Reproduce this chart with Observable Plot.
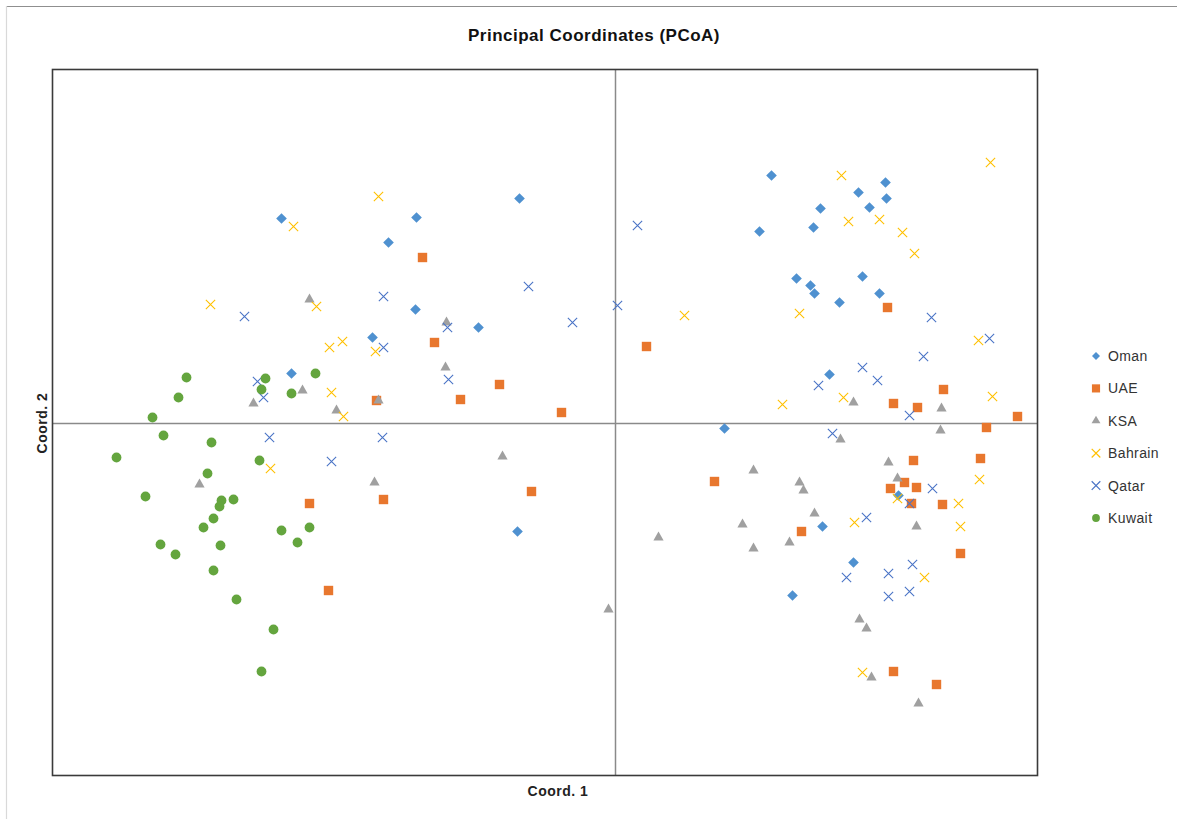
<!DOCTYPE html>
<html>
<head>
<meta charset="utf-8">
<script src="https://cdn.jsdelivr.net/npm/d3@7"></script>
<script src="https://cdn.jsdelivr.net/npm/@observablehq/plot@0.6"></script>
<style>
  html, body { margin: 0; padding: 0; background: #fff; }
  #chart { position: relative; width: 1177px; height: 819px; overflow: hidden; }
  #chart svg { position: absolute; left: 0; top: 0; }
</style>
</head>
<body>
<div id="chart"></div>
<script>
// PCoA coordinates [Coord. 1, Coord. 2]
const oman = [
  [-0.334,0.205],[-0.199,0.206],[-0.096,0.225],[-0.227,0.181],[-0.200,0.114],[-0.243,0.086],
  [-0.137,0.096],[-0.324,0.050],[-0.098,-0.108],[0.156,0.248],[0.144,0.192],[0.205,0.215],
  [0.198,0.196],[0.243,0.231],[0.254,0.216],[0.270,0.241],[0.271,0.225],[0.181,0.145],
  [0.195,0.138],[0.199,0.130],[0.224,0.121],[0.247,0.147],[0.264,0.130],[0.214,0.049],
  [0.109,-0.005],[0.207,-0.103],[0.177,-0.172],[0.238,-0.139],[0.283,-0.072]
];
const uae = [
  [-0.193,0.166],[-0.181,0.081],[-0.116,0.039],[-0.155,0.024],[-0.054,0.011],[-0.239,0.023],
  [-0.306,-0.080],[-0.232,-0.076],[-0.287,-0.167],[-0.084,-0.068],[0.031,0.077],[0.272,0.116],
  [0.328,0.034],[0.278,0.020],[0.302,0.016],[0.402,0.007],[0.371,-0.004],[0.298,-0.037],
  [0.365,-0.035],[0.099,-0.058],[0.289,-0.059],[0.301,-0.064],[0.275,-0.065],[0.296,-0.080],
  [0.327,-0.081],[0.186,-0.108],[0.345,-0.130],[0.278,-0.248],[0.321,-0.261]
];
const ksa = [
  [-0.306,0.124],[-0.169,0.101],[-0.170,0.056],[-0.313,0.033],[-0.362,0.020],[-0.237,0.023],
  [-0.279,0.013],[-0.416,-0.061],[-0.241,-0.059],[-0.113,-0.033],[-0.007,-0.186],[0.043,-0.114],
  [0.238,0.021],[0.326,0.015],[0.325,-0.007],[0.225,-0.016],[0.273,-0.039],[0.138,-0.047],
  [0.282,-0.055],[0.184,-0.059],[0.188,-0.067],[0.199,-0.090],[0.127,-0.101],[0.301,-0.103],
  [0.174,-0.119],[0.138,-0.125],[0.244,-0.196],[0.251,-0.205],[0.256,-0.254],[0.303,-0.280]
];
const bahrain = [
  [-0.237,0.227],[-0.322,0.197],[-0.405,0.119],[-0.299,0.117],[-0.286,0.076],[-0.273,0.082],
  [-0.240,0.072],[-0.284,0.031],[-0.272,0.007],[-0.345,-0.045],[0.375,0.261],[0.226,0.248],
  [0.233,0.202],[0.264,0.204],[0.287,0.191],[0.299,0.170],[0.069,0.108],[0.184,0.110],
  [0.363,0.083],[0.377,0.027],[0.228,0.026],[0.167,0.019],[0.364,-0.056],[0.282,-0.075],
  [0.343,-0.080],[0.239,-0.099],[0.345,-0.103],[0.309,-0.154],[0.247,-0.249]
];
const qatar = [
  [-0.371,0.107],[-0.232,0.127],[-0.232,0.076],[-0.358,0.042],[-0.352,0.026],[-0.087,0.137],
  [-0.043,0.101],[0.002,0.118],[-0.168,0.096],[-0.167,0.044],[-0.346,-0.014],[-0.233,-0.014],
  [-0.284,-0.038],[0.022,0.198],[0.316,0.106],[0.374,0.085],[0.308,0.067],[0.247,0.056],
  [0.262,0.043],[0.203,0.038],[0.294,0.008],[0.217,-0.010],[0.317,-0.065],[0.294,-0.080],
  [0.251,-0.094],[0.297,-0.141],[0.231,-0.154],[0.273,-0.150],[0.294,-0.168],[0.273,-0.173]
];
const kuwait = [
  [-0.429,0.046],[-0.437,0.026],[-0.463,0.006],[-0.350,0.045],[-0.354,0.034],[-0.324,0.030],
  [-0.300,0.050],[-0.452,-0.012],[-0.404,-0.019],[-0.499,-0.034],[-0.356,-0.037],[-0.408,-0.050],
  [-0.470,-0.073],[-0.394,-0.077],[-0.382,-0.076],[-0.396,-0.083],[-0.402,-0.095],[-0.412,-0.104],
  [-0.334,-0.107],[-0.306,-0.104],[-0.318,-0.119],[-0.455,-0.121],[-0.440,-0.131],[-0.395,-0.122],
  [-0.402,-0.147],[-0.379,-0.176],[-0.342,-0.206],[-0.354,-0.248]
];

const seriesNames = ["Oman", "UAE", "KSA", "Bahrain", "Qatar", "Kuwait"];
const seriesData = [oman, uae, ksa, bahrain, qatar, kuwait];
const seriesColors = ["#4F91D0", "#E8772E", "#A0A0A0", "#FFC000", "#4A74C6", "#64A53E"];
const seriesSymbols = ["diamond2", "square", "triangle", "times", "times", "circle"];
const seriesR = [4.8, 5.3, 3.8, 4.3, 4.3, 4.9];
const seriesFilled = [true, true, true, false, false, true];

const title = "Principal Coordinates (PCoA)";
const xLabel = "Coord. 1";
const yLabel = "Coord. 2";

const dotMarks = seriesData.map((d, i) => Plot.dot(d, {
  x: p => p[0],
  y: p => p[1],
  symbol: () => seriesSymbols[i],
  r: seriesR[i],
  fill: seriesFilled[i] ? seriesColors[i] : "none",
  stroke: seriesFilled[i] ? "none" : seriesColors[i],
  strokeWidth: seriesFilled[i] ? 0 : 1.1
}));

const svg = Plot.plot({
  width: 1177,
  height: 819,
  marginLeft: 52,
  marginRight: 140,
  marginTop: 69,
  marginBottom: 44,
  style: { background: "white", fontFamily: "Liberation Sans, Arial, sans-serif" },
  x: { domain: [-0.563, 0.422], axis: null },
  y: { domain: [-0.352, 0.354], axis: null },
  symbol: { type: "identity" },
  marks: [
    Plot.ruleX([0], { stroke: "#8a8a8a", strokeWidth: 1.5 }),
    Plot.ruleY([0], { stroke: "#8a8a8a", strokeWidth: 1.5 }),
    ...dotMarks,
    Plot.frame({ stroke: "#3a3a3a", strokeWidth: 1.6 })
  ]
});

const root = d3.select(svg);
const FONT = "Liberation Sans, Arial, sans-serif";
// outer chart-area border
root.append("line").attr("x1", 6).attr("x2", 1177).attr("y1", 6.5).attr("y2", 6.5)
  .attr("stroke", "#8f8f8f").attr("stroke-width", 1.2);
root.append("line").attr("x1", 6.5).attr("x2", 6.5).attr("y1", 6).attr("y2", 819)
  .attr("stroke", "#d9d9d9").attr("stroke-width", 1.2);

// title and axis titles
root.append("text").attr("x", 594).attr("y", 41).attr("text-anchor", "middle")
  .attr("font-family", FONT).attr("font-weight", "bold").attr("letter-spacing", 0.5)
  .attr("font-size", 17).attr("fill", "#111").text(title);
root.append("text").attr("x", 558).attr("y", 796).attr("text-anchor", "middle")
  .attr("font-family", FONT).attr("font-weight", "bold").attr("letter-spacing", 0.5)
  .attr("font-size", 14).attr("fill", "#222").text(xLabel);
root.append("text").attr("transform", "translate(47,423) rotate(-90)").attr("text-anchor", "middle")
  .attr("font-family", FONT).attr("font-weight", "bold").attr("letter-spacing", 0.5)
  .attr("font-size", 14).attr("fill", "#222").text(yLabel);

// legend
const symMap = { diamond2: d3.symbolDiamond2, square: d3.symbolSquare, triangle: d3.symbolTriangle, times: d3.symbolTimes, circle: d3.symbolCircle };
const legendR = [3.6, 4.6, 3.3, 4.0, 4.0, 3.9];
const lg = root.append("g").attr("text-anchor", "start");
seriesNames.forEach((name, i) => {
  const yy = 356 + i * 32.4;
  const path = lg.append("path")
    .attr("transform", `translate(1096,${yy})`)
    .attr("d", d3.symbol().type(symMap[seriesSymbols[i]]).size(Math.PI * legendR[i] * legendR[i])());
  if (seriesFilled[i]) path.attr("fill", seriesColors[i]);
  else path.attr("fill", "none").attr("stroke", seriesColors[i]).attr("stroke-width", 1.2);
  lg.append("text").attr("x", 1108).attr("y", yy + 5).attr("text-anchor", "start")
    .attr("font-family", FONT).attr("letter-spacing", 0.4)
    .attr("font-size", 14).attr("fill", "#333").text(name);
});

document.getElementById("chart").appendChild(svg);
</script>
</body>
</html>
